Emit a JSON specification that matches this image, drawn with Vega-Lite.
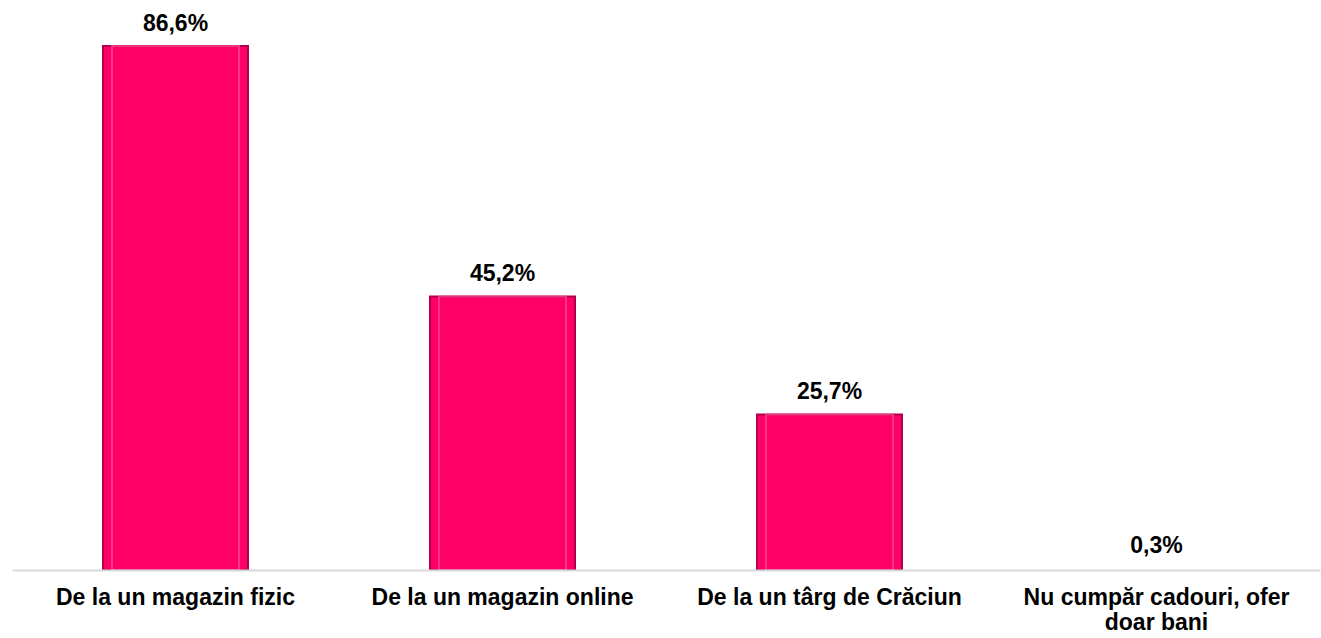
{
  "$schema": "https://vega.github.io/schema/vega-lite/v6.json",
  "width": 1308,
  "height": 570,
  "autosize": {"type": "none"},
  "padding": {"left": 12, "top": 0, "right": 1, "bottom": 68},
  "background": "white",
  "config": {"view": {"stroke": null}, "font": "Liberation Sans"},
  "data": {"values": [
    {"categorie": "De la un magazin fizic", "procent": 86.6},
    {"categorie": "De la un magazin online", "procent": 45.2},
    {"categorie": "De la un târg de Crăciun", "procent": 25.7},
    {"categorie": "Nu cumpăr cadouri, ofer doar bani", "procent": 0.3}
  ]},
  "encoding": {
    "x": {
      "field": "categorie", "type": "nominal", "sort": null,
      "scale": {"paddingInner": 0.557, "paddingOuter": 0.2785},
      "axis": {
        "title": null, "labelAngle": 0, "ticks": false, "zindex": 1,
        "domainColor": "#d9d9d9", "domainWidth": 2,
        "labelFont": "Liberation Sans", "labelFontWeight": "bold", "labelFontSize": 23,
        "labelColor": "#000000", "labelPadding": 16, "labelLimit": 400, "labelLineHeight": 25,
        "labelExpr": "datum.value == 'Nu cumpăr cadouri, ofer doar bani' ? ['Nu cumpăr cadouri, ofer', 'doar bani'] : datum.value"
      }
    },
    "y": {
      "field": "procent", "type": "quantitative",
      "scale": {"domain": [0, 94.2], "nice": false},
      "axis": null
    }
  },
  "layer": [
    {
      "mark": {"type": "bar", "size": 145, "fill": "#FF0066", "stroke": "#B0004A", "strokeWidth": 2},
      "encoding": {"opacity": {"condition": {"test": "datum.procent < 1", "value": 0}, "value": 1}}
    },
    {
      "mark": {"type": "bar", "size": 127, "fill": null, "stroke": "#FF4D94", "strokeWidth": 2, "strokeOpacity": 0.7},
      "encoding": {"opacity": {"condition": {"test": "datum.procent < 1", "value": 0}, "value": 1}}
    },
    {
      "mark": {
        "type": "text", "baseline": "alphabetic", "dy": -15,
        "font": "Liberation Sans", "fontWeight": "bold", "fontSize": 23, "color": "#000000",
        "text": {"expr": "replace(format(datum.procent, '.1f'), '.', ',') + '%'"}
      }
    }
  ]
}
